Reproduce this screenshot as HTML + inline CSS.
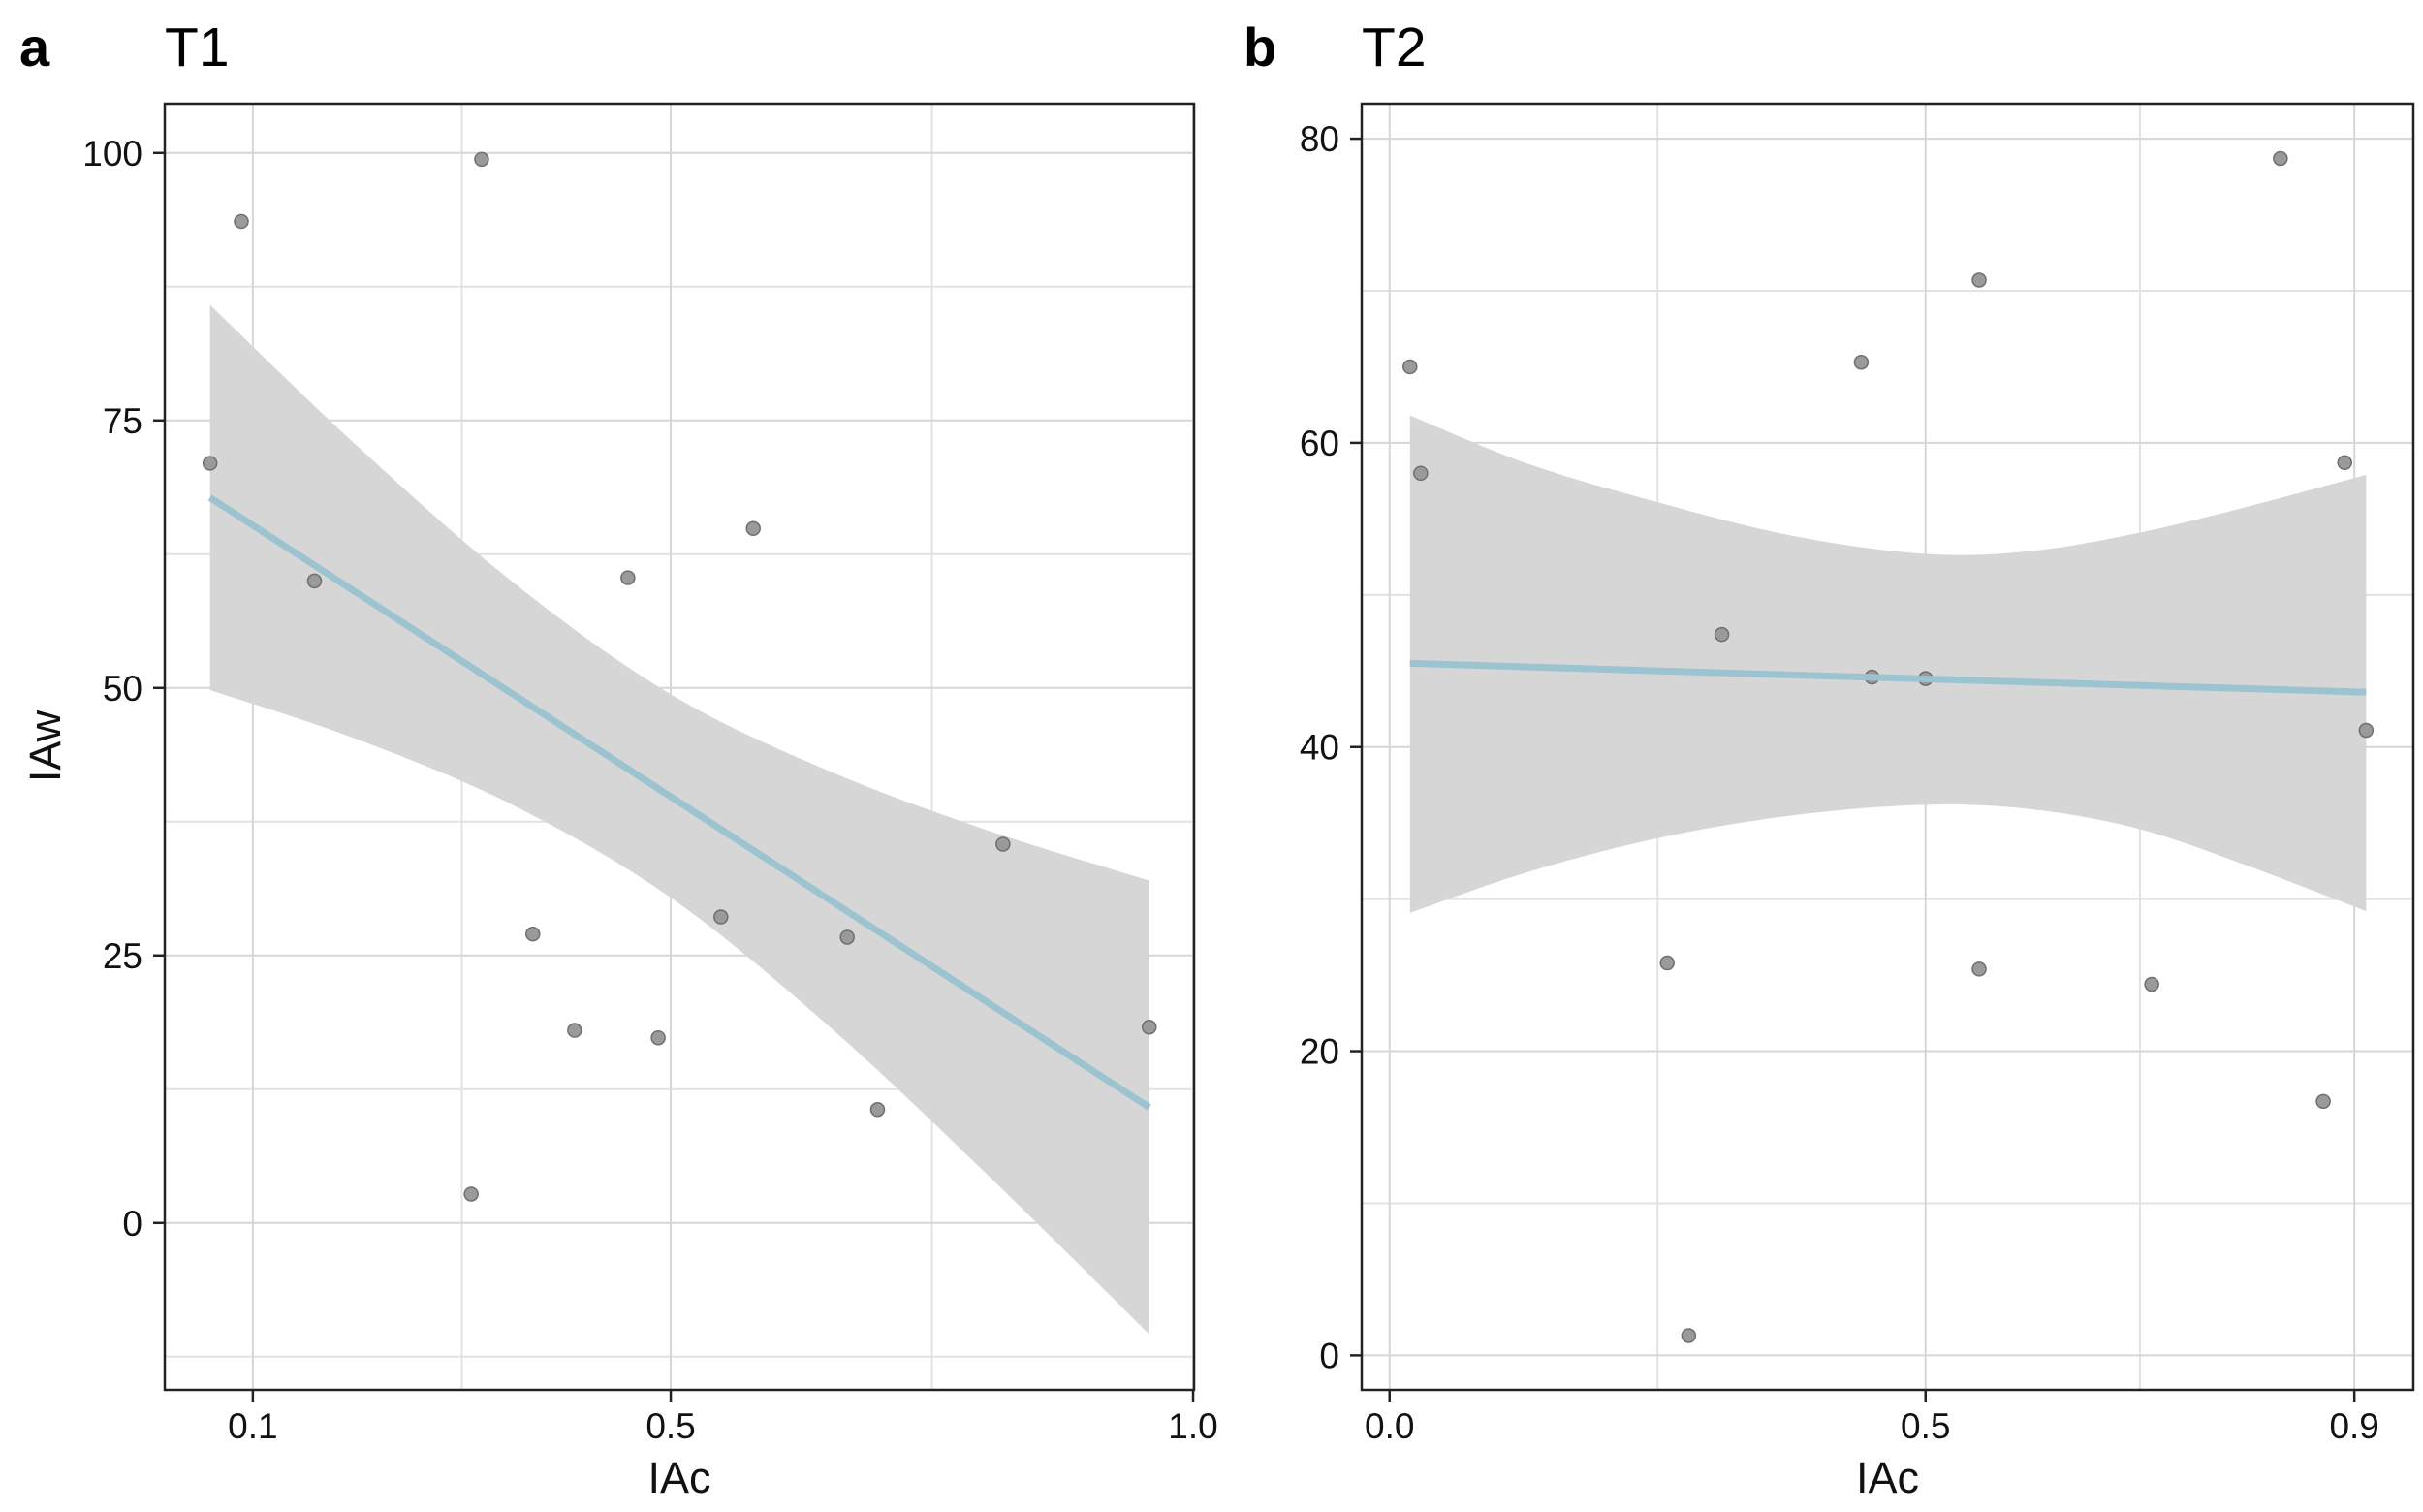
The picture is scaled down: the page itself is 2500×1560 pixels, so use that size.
<!DOCTYPE html>
<html><head><meta charset="utf-8"><style>
html,body{margin:0;padding:0;background:#fff;}
svg text{font-family:"Liberation Sans",sans-serif;}
</style></head><body>
<svg id="fig" width="2500" height="1555" viewBox="0 0 2500 1555" xmlns="http://www.w3.org/2000/svg"></svg>
<script>
// Panel a (T1) data
const aX = [0.059,0.089,0.319,0.159,0.579,0.459,0.368,0.408,0.488,0.309,0.548,0.669,0.698,0.818,0.958];
const aY = [71.0,93.6,99.4,60.0,64.9,60.3,27.0,18.0,17.3,2.7,28.6,26.7,10.6,35.4,18.3];
const aLineX = [0.059,0.958];
const aLineY = [67.8,10.8];
const aBandX = [0.059,0.2,0.35,0.5,0.65,0.8,0.958];
const aBandHi = [85.8,72.6,59.8,49.4,42.3,36.8,32.0];
const aBandLo = [49.8,45.2,39.0,30.4,18.5,4.8,-10.4];
const aXTicks = [0.1,0.5,1.0];
const aXTickLabels = ["0.1","0.5","1.0"];
const aXMinor = [0.3,0.75];
const aYTicks = [0,25,50,75,100];
const aYTickLabels = ["0","25","50","75","100"];
const aYMinor = [-12.5,12.5,37.5,62.5,87.5];
// Panel b (T2) data
const bX = [0.019,0.029,0.440,0.550,0.831,0.891,0.310,0.450,0.500,0.911,0.259,0.550,0.711,0.871,0.279];
const bY = [65.0,58.0,65.3,70.7,78.7,58.7,47.4,44.6,44.5,41.1,25.8,25.4,24.4,16.7,1.3];
const bLineX = [0.019,0.911];
const bLineY = [45.5,43.6];
const bBandX = [0.019,0.13,0.25,0.375,0.5,0.6,0.7,0.8,0.911];
const bBandHi = [61.8,58.6,56.1,53.9,52.7,52.9,54.1,55.8,57.9];
const bBandLo = [29.1,31.8,34.0,35.5,36.2,35.9,34.6,32.2,29.2];
const bXTicks = [0.0,0.5,0.9];
const bXTickLabels = ["0.0","0.5","0.9"];
const bXMinor = [0.25,0.7];
const bYTicks = [0,20,40,60,80];
const bYTickLabels = ["0","20","40","60","80"];
const bYMinor = [10,30,50,70];

const NS = "http://www.w3.org/2000/svg";
const svg = document.getElementById('fig');
function mk(tag, attrs, parent){
  const e = document.createElementNS(NS, tag);
  for (const k in attrs) e.setAttribute(k, attrs[k]);
  (parent||svg).appendChild(e);
  return e;
}
function smooth(pts, start){
  let d = start ? 'M' + pts[0][0] + ',' + pts[0][1] : 'L' + pts[0][0] + ',' + pts[0][1];
  for (let i = 0; i < pts.length - 1; i++){
    const p0 = pts[Math.max(0,i-1)], p1 = pts[i], p2 = pts[i+1], p3 = pts[Math.min(pts.length-1,i+2)];
    const c1x = p1[0] + (p2[0]-p0[0])/6, c1y = p1[1] + (p2[1]-p0[1])/6;
    const c2x = p2[0] - (p3[0]-p1[0])/6, c2y = p2[1] - (p3[1]-p1[1])/6;
    d += 'C' + c1x + ',' + c1y + ' ' + c2x + ',' + c2y + ' ' + p2[0] + ',' + p2[1];
  }
  return d;
}
function panel(p){
  const g = mk('g', {});
  
  
  const sx = v => p.L + (v - p.xd[0]) / (p.xd[1] - p.xd[0]) * (p.R - p.L);
  const sy = v => p.B - (v - p.yd[0]) / (p.yd[1] - p.yd[0]) * (p.B - p.T);
  p.yMinor.forEach(v => { const l = mk('line',{x1:p.L,x2:p.R,y1:sy(v),y2:sy(v),stroke:'#e2e2e2','stroke-width':2},g);   });
  p.xMinor.forEach(v => { const l = mk('line',{x1:sx(v),x2:sx(v),y1:p.T,y2:p.B,stroke:'#e2e2e2','stroke-width':2},g);   });
  p.yTicks.forEach(v => { const l = mk('line',{x1:p.L,x2:p.R,y1:sy(v),y2:sy(v),stroke:'#d6d6d6','stroke-width':2},g);   });
  p.xTicks.forEach(v => { const l = mk('line',{x1:sx(v),x2:sx(v),y1:p.T,y2:p.B,stroke:'#d6d6d6','stroke-width':2},g);   });
  const hi = p.bandX.map((v,i) => [sx(v), sy(p.bandHi[i])]);
  const lo = p.bandX.map((v,i) => [sx(v), sy(p.bandLo[i])]).reverse();
  const d = smooth(hi, true) + smooth(lo, false) + 'Z';
  const band = mk('path',{d:d,fill:'#d6d6d6',stroke:'none'},g);
  
  
  p.px.forEach((v,i) => {
    const c = mk('circle',{cx:sx(v),cy:sy(p.py[i]),r:7,fill:'#9a9a9a',stroke:'#6f6f6f','stroke-width':1.5},g);
    
    
  });
  const rl = mk('line',{x1:sx(p.lx[0]),y1:sy(p.ly[0]),x2:sx(p.lx[1]),y2:sy(p.ly[1]),stroke:'#9cc3d0','stroke-width':7},g);
  
  
  const fr = mk('rect',{x:p.L,y:p.T,width:p.R-p.L,height:p.B-p.T,fill:'none',stroke:'#222','stroke-width':2.5},g);
  
  
  p.yTicks.forEach((v,i) => {
    mk('line',{x1:p.L-12,x2:p.L,y1:sy(v),y2:sy(v),stroke:'#222','stroke-width':2.5},g);
    const t = mk('text',{x:p.L-23,y:sy(v)+13,'text-anchor':'end','font-size':37,fill:'#111'},g);
    t.textContent = p.yLabels[i];
    
    
  });
  p.xTicks.forEach((v,i) => {
    mk('line',{x1:sx(v),x2:sx(v),y1:p.B,y2:p.B+12,stroke:'#222','stroke-width':2.5},g);
    const t = mk('text',{x:sx(v),y:1484,'text-anchor':'middle','font-size':37,fill:'#111'},g);
    t.textContent = p.xLabels[i];
    
    
  });
  const xt = mk('text',{x:(p.L+p.R)/2,y:1540,'text-anchor':'middle','font-size':45,fill:'#111'},g);
  xt.textContent = 'IAc';
  
  
  const lt = mk('text',{x:p.letterX,y:68,'font-size':56,'font-weight':'bold',fill:'#000'},g);
  lt.textContent = p.letter;
  
  
  const tt = mk('text',{x:p.L,y:68,'font-size':57,fill:'#000'},g);
  tt.textContent = p.title;
  
  
}
panel({id:'a',L:170,R:1232,T:107,B:1434,xd:[0.0157,1.0009],yd:[-15.6,104.6],
  px:aX,py:aY,lx:aLineX,ly:aLineY,bandX:aBandX,bandHi:aBandHi,bandLo:aBandLo,
  xTicks:aXTicks,xLabels:aXTickLabels,xMinor:aXMinor,yTicks:aYTicks,yLabels:aYTickLabels,yMinor:aYMinor,
  letter:'a',letterX:20,title:'T1'});
panel({id:'b',L:1405,R:2490,T:107,B:1434,xd:[-0.026,0.955],yd:[-2.27,82.3],
  px:bX,py:bY,lx:bLineX,ly:bLineY,bandX:bBandX,bandHi:bBandHi,bandLo:bBandLo,
  xTicks:bXTicks,xLabels:bXTickLabels,xMinor:bXMinor,yTicks:bYTicks,yLabels:bYTickLabels,yMinor:bYMinor,
  letter:'b',letterX:1283,title:'T2'});
const yt = mk('text',{x:0,y:0,'text-anchor':'middle','font-size':45,fill:'#111',transform:'translate(62,770) rotate(-90)'});
yt.textContent = 'IAw';


</script>
</body></html>
